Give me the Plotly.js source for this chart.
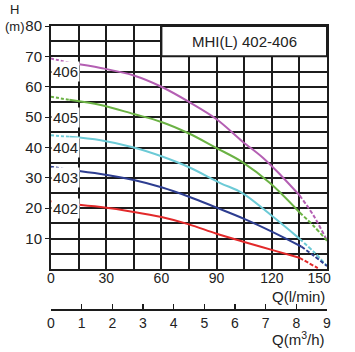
<!DOCTYPE html>
<html>
<head>
<meta charset="utf-8">
<script src="https://cdn.plot.ly/plotly-3.0.1.min.js"></script>
<style>html,body{margin:0;padding:0;background:#fff;}#chart{width:355px;height:352px;}</style>
</head>
<body>
<div id="chart"></div>
<script>
// Flow Q (l/min) and head H (m)
const q406 = [0, 10, 27, 45, 60, 75, 90, 104, 115, 125, 135, 143, 150];
const h406 = [69.3, 67.9, 66.2, 63.7, 60.0, 55.0, 49.3, 42.0, 36.7, 30.8, 24.3, 17.3, 9.3];
const q405 = [0, 10, 27, 45, 60, 75, 90, 104, 119, 135, 143, 150];
const h405 = [56.7, 55.7, 54.0, 51.0, 48.4, 44.6, 39.8, 35.2, 28.3, 18.7, 14.0, 9.3];
const q404 = [0, 10, 27, 45, 60, 75, 92, 104, 120, 135, 143, 150];
const h404 = [44.0, 43.5, 42.4, 40.0, 37.1, 33.5, 28.3, 25.0, 17.5, 10.0, 5.5, 1.0];
const q403 = [0, 10, 27, 45, 60, 75, 90, 105, 120, 136, 143, 150];
const h403 = [33.7, 32.6, 31.3, 29.3, 26.9, 23.8, 20.2, 16.5, 12.3, 7.4, 4.3, 1.0];
const q402 = [0, 10, 27, 45, 60, 75, 90, 105, 120, 135, 140, 145];
const h402 = [22.3, 21.4, 20.4, 18.8, 17.1, 14.7, 11.6, 8.9, 6.3, 3.7, 2.0, 0.3];

const models = ["406", "405", "404", "403", "402"];
const labelH = [65, 50, 40, 30, 20];
const colors = ["#b45fb3", "#6bb244", "#6ccad6", "#2d3d90", "#e2292a"];
const qTicks = [0, 30, 60, 90, 120, 150];
const qTickText = ["0", "30", "60", "90", "120", "150\u00a0\u00a0\u00a0\u00a0"];
const qGrid = 15;
const hTicks = [10, 20, 30, 40, 50, 60, 70, 80];
const hGrid = 5;
const m3Ticks = [0, 1, 2, 3, 4, 5, 6, 7, 8, 9];
const chartTitle = "MHI(L) 402-406";

const series = [[q406,h406],[q405,h405],[q404,h404],[q403,h403],[q402,h402]];
const traces = [];
series.forEach((s, i) => {
  const q = s[0], h = s[1], n = q.length;
  const common = {type: "scatter", mode: "lines", hoverinfo: "skip", showlegend: false};
  traces.push(Object.assign({}, common, {x: q.slice(0, 2), y: h.slice(0, 2),
    line: {color: colors[i], width: 2, dash: "3px,2px"}}));
  traces.push(Object.assign({}, common, {x: q.slice(1, n - 2), y: h.slice(1, n - 2),
    line: {color: colors[i], width: 2, shape: "spline"}}));
  traces.push(Object.assign({}, common, {x: q.slice(n - 3), y: h.slice(n - 3),
    line: {color: colors[i], width: 2, dash: "4px,2px", shape: "spline"}}));
});
// invisible trace bound to the m3/h axis so it is drawn
traces.push({type: "scatter", mode: "lines", x: q406.map(v => v * 60 / 1000), y: h406,
  xaxis: "x2", yaxis: "y", line: {width: 0, color: "rgba(0,0,0,0)"}, hoverinfo: "skip", showlegend: false});

const font = "Liberation Sans, Arial, sans-serif";
const gridC = "#1c1c1c";
const annotations = models.map((m, i) => ({
  x: 0, y: labelH[i], xref: "x", yref: "y", xanchor: "left", yanchor: "middle",
  text: m, showarrow: false, bgcolor: "#ffffff", borderpad: 1,
  font: {family: font, size: 15, color: "#222"}
}));
annotations.push({x: 105, y: 75, xref: "x", yref: "y", xanchor: "center", yanchor: "middle", text: chartTitle, showarrow: false,
  font: {family: font, size: 15, color: "#222"}});
annotations.push({x: -0.13, y: 1.027, xref: "paper", yref: "paper", xanchor: "center", yanchor: "middle", text: "H<br>(m)", showarrow: false,
  font: {family: font, size: 13, color: "#222"}});
annotations.push({x: 1, y: 0.049, xref: "paper", yref: "paper", xanchor: "right", yanchor: "middle", text: "Q(l/min)", showarrow: false,
  font: {family: font, size: 15, color: "#222"}});
annotations.push({x: 1, y: -0.102, xref: "paper", yref: "paper", xanchor: "right", yanchor: "middle", text: "Q(m<sup>3</sup>/h)", showarrow: false,
  font: {family: font, size: 15, color: "#222"}});

const layout = {
  width: 355, height: 352,
  margin: {l: 51, r: 28, t: 26, b: 42, pad: 0},
  paper_bgcolor: "#ffffff", plot_bgcolor: "#ffffff",
  font: {family: font, size: 14, color: "#222"},
  showlegend: false,
  xaxis: {
    range: [0, 150], anchor: "y", tickvals: qTicks, ticktext: qTickText, showgrid: true, gridcolor: gridC, gridwidth: 2,
    minor: {dtick: qGrid, tick0: 0, showgrid: true, gridcolor: gridC, gridwidth: 2},
    showline: true, linecolor: gridC, linewidth: 2, mirror: true, zeroline: false,
    ticks: "", ticklabelstandoff: -5, tickfont: {family: font, size: 14, color: "#222"}, fixedrange: true
  },
  yaxis: {
    range: [0, 80], domain: [0.1444, 1], tickvals: hTicks, showgrid: true, gridcolor: gridC, gridwidth: 2,
    minor: {dtick: hGrid, tick0: 0, showgrid: true, gridcolor: gridC, gridwidth: 2},
    showline: true, linecolor: gridC, linewidth: 2, mirror: true, zeroline: false,
    ticks: "outside", ticklen: 4, tickwidth: 1, tickcolor: gridC,
    tickfont: {family: font, size: 15, color: "#222"}, fixedrange: true
  },
  xaxis2: {
    range: [0, 9], overlaying: "x", anchor: "free", position: 0, side: "bottom",
    tickvals: m3Ticks, showgrid: false, zeroline: false,
    showline: true, linecolor: gridC, linewidth: 2,
    ticks: "inside", ticklen: 5, tickwidth: 1.5, tickcolor: gridC,
    tickfont: {family: font, size: 14, color: "#222"}, fixedrange: true
  },
  shapes: [{type: "rect", xref: "x", yref: "y", x0: 60, x1: 150, y0: 70, y1: 80,
    fillcolor: "#ffffff", line: {color: gridC, width: 2}, layer: "above"}],
  annotations: annotations
};

Plotly.newPlot("chart", traces, layout, {staticPlot: true, displayModeBar: false});
</script>
</body>
</html>
